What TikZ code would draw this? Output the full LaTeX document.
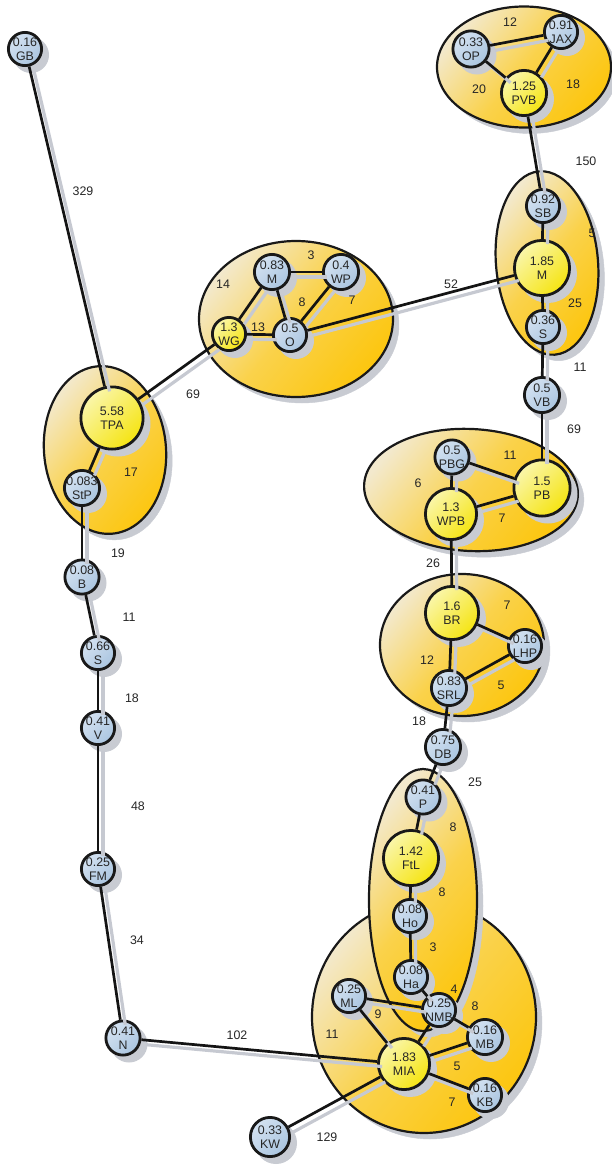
\documentclass[tikz,border=0pt]{standalone}
\usepackage{fontspec}
\setmainfont{Liberation Sans}
\usetikzlibrary{shadows}
\definecolor{shgray}{RGB}{200,203,210}
\definecolor{edgegray}{RGB}{198,201,209}
\definecolor{cream}{RGB}{243,233,205}
\definecolor{goldmid}{RGB}{250,210,75}
\definecolor{gold}{RGB}{252,198,15}
\definecolor{bluelt}{RGB}{212,226,241}
\definecolor{bluedk}{RGB}{170,197,224}
\definecolor{yellt}{RGB}{250,246,170}
\definecolor{yeldk}{RGB}{245,228,18}
\newcommand{\two}[2]{\makebox[0pt]{#1}\\\makebox[0pt]{#2}}
\begin{document}
\begin{tikzpicture}[x=1pt,y=-1pt,
  txt/.style={font=\fontsize{12.4}{14.5}\selectfont, text=black!85},
  city/.style={circle, draw=black!90, line width=2.8pt, inner sep=0pt, align=center, txt,
     minimum size=#1pt,
     drop shadow={shadow xshift=6pt,shadow yshift=-6pt,fill=shgray,draw=shgray,opacity=1}},
  bnode/.style={city=#1, top color=bluelt, bottom color=bluedk, shading angle=45},
  ynode/.style={city=#1, top color=yellt, bottom color=yeldk, shading angle=45},
  group/.style={draw=black!90, line width=2.2pt, top color=cream, bottom color=gold, middle color=goldmid, shading angle=50,
     drop shadow={shadow xshift=6pt,shadow yshift=-6pt,fill=shgray,draw=shgray,opacity=1}},
  edge/.style={draw=black!92, line width=2.7pt},
  edgesh/.style={draw=edgegray, line width=3.2pt, transform canvas={xshift=5pt,yshift=-5pt}},
  lbl/.style={txt, inner sep=0pt}
]
\useasboundingbox (0,0) rectangle (612,1165);

% group ellipses
\draw[group] (524,67) ellipse [x radius=87, y radius=60.5];
\draw[group] (296,319) ellipse [x radius=97, y radius=78];
\draw[group, rotate around={5:(547,263)}] (547,263) ellipse [x radius=51, y radius=92];
\draw[group, rotate around={5:(105,450)}] (105,450) ellipse [x radius=61, y radius=84];
\draw[group, rotate around={-3:(471,490)}] (471,490) ellipse [x radius=107, y radius=61];
\draw[group] (462,645) ellipse [x radius=82, y radius=71];
\draw[group] (424,1017) ellipse [x radius=112, y radius=116];
\draw[group] (423,900) ellipse [x radius=54, y radius=131];

% nodes
\node[bnode=33.2] (GB) at (25,49) {\two{0.16}{GB}};
\node[ynode=62.2] (TPA) at (112,418) {\two{5.58}{TPA}};
\node[bnode=35.2] (StP) at (82,488) {\two{0.083}{StP}};
\node[bnode=34.2] (B) at (82,577) {\two{0.08}{B}};
\node[bnode=33.2] (Sa) at (98,653) {\two{0.66}{S}};
\node[bnode=33.2] (V) at (98,728) {\two{0.41}{V}};
\node[bnode=33.2] (FM) at (98,869) {\two{0.25}{FM}};
\node[bnode=34.2] (N) at (123,1038) {\two{0.41}{N}};
\node[bnode=39.2] (KW) at (270,1137) {\two{0.33}{KW}};
\node[ynode=33.2] (WG) at (229,334) {\two{1.3}{WG}};
\node[bnode=35.2] (Ma) at (272,272) {\two{0.83}{M}};
\node[bnode=35.2] (WP) at (341,272) {\two{0.4}{WP}};
\node[bnode=33.2] (O) at (290,335) {\two{0.5}{O}};
\node[bnode=36.2] (OP) at (471,49) {\two{0.33}{OP}};
\node[bnode=33.2] (JAX) at (561,32) {\two{0.91}{JAX}};
\node[ynode=45.2] (PVB) at (524,93) {\two{1.25}{PVB}};
\node[bnode=33.2] (SB) at (543,206) {\two{0.92}{SB}};
\node[ynode=55.2] (Mb) at (542,268) {\two{1.85}{M}};
\node[bnode=33.2] (Sb) at (543,327) {\two{0.36}{S}};
\node[bnode=35.2] (VB) at (542,395) {\two{0.5}{VB}};
\node[bnode=34.2] (PBG) at (452,457) {\two{0.5}{PBG}};
\node[ynode=51.2] (WPB) at (451,514) {\two{1.3}{WPB}};
\node[ynode=56.2] (PB) at (542,488) {\two{1.5}{PB}};
\node[ynode=53.2] (BR) at (452,613) {\two{1.6}{BR}};
\node[bnode=33.2] (LHP) at (525,646) {\two{0.16}{LHP}};
\node[bnode=35.2] (SRL) at (449,688) {\two{0.83}{SRL}};
\node[bnode=35.2] (DB) at (443,747) {\two{0.75}{DB}};
\node[bnode=34.2] (P) at (423,797) {\two{0.41}{P}};
\node[ynode=55.2] (FtL) at (411,858) {\two{1.42}{FtL}};
\node[bnode=33.2] (Ho) at (410,916) {\two{0.08}{Ho}};
\node[bnode=33.2] (Ha) at (411,977) {\two{0.08}{Ha}};
\node[bnode=33.2] (ML) at (349,996) {\two{0.25}{ML}};
\node[bnode=33.2] (NMB) at (439,1010) {\two{0.25}{NMB}};
\node[bnode=35.2] (MB) at (485,1037) {\two{0.16}{MB}};
\node[ynode=51.2] (MIA) at (404,1064) {\two{1.83}{MIA}};
\node[bnode=33.2] (KB) at (485,1095) {\two{0.16}{KB}};

% edge shadows
\foreach \a/\b in {GB/TPA,TPA/WG,TPA/StP,StP/B,B/Sa,Sa/V,V/FM,FM/N,N/MIA,KW/MIA,
  WG/Ma,WG/O,Ma/WP,Ma/O,WP/O,O/Mb,OP/JAX,OP/PVB,JAX/PVB,PVB/SB,SB/Mb,Mb/Sb,Sb/VB,VB/PB,
  PBG/WPB,PBG/PB,WPB/PB,WPB/BR,BR/SRL,BR/LHP,SRL/LHP,SRL/DB,DB/P,P/FtL,FtL/Ho,Ho/Ha,
  Ha/NMB,ML/NMB,ML/MIA,NMB/MIA,NMB/MB,MIA/MB,MIA/KB}
  \draw[edgesh] (\a) -- (\b);
% edges
\foreach \a/\b in {GB/TPA,TPA/WG,TPA/StP,StP/B,B/Sa,Sa/V,V/FM,FM/N,N/MIA,KW/MIA,
  WG/Ma,WG/O,Ma/WP,Ma/O,WP/O,O/Mb,OP/JAX,OP/PVB,JAX/PVB,PVB/SB,SB/Mb,Mb/Sb,Sb/VB,VB/PB,
  PBG/WPB,PBG/PB,WPB/PB,WPB/BR,BR/SRL,BR/LHP,SRL/LHP,SRL/DB,DB/P,P/FtL,FtL/Ho,Ho/Ha,
  Ha/NMB,ML/NMB,ML/MIA,NMB/MIA,NMB/MB,MIA/MB,MIA/KB}
  \draw[edge] (\a) -- (\b);

% edge labels
\node[lbl] (w1) at (83,191) {329};
\node[lbl] (w2) at (193,394) {69};
\node[lbl] (w3) at (131,472) {17};
\node[lbl] (w4) at (118,553) {19};
\node[lbl] (w5) at (129,617) {11};
\node[lbl] (w6) at (132,698) {18};
\node[lbl] (w7) at (138,806) {48};
\node[lbl] (w8) at (137,940) {34};
\node[lbl] (w9) at (237,1035) {102};
\node[lbl] (w10) at (327,1137) {129};
\node[lbl] (w11) at (223,284) {14};
\node[lbl] (w12) at (311,255) {3};
\node[lbl] (w13) at (302,302) {8};
\node[lbl] (w14) at (352,300) {7};
\node[lbl] (w15) at (258,327) {13};
\node[lbl] (w16) at (451,284) {52};
\node[lbl] (w17) at (510,22) {12};
\node[lbl] (w18) at (479,89) {20};
\node[lbl] (w19) at (573,84) {18};
\node[lbl] (w20) at (586,161) {150};
\node[lbl] (w21) at (592,233) {5};
\node[lbl] (w22) at (575,303) {25};
\node[lbl] (w23) at (580,367) {11};
\node[lbl] (w24) at (574,429) {69};
\node[lbl] (w25) at (510,455) {11};
\node[lbl] (w26) at (418,483) {6};
\node[lbl] (w27) at (502,518) {7};
\node[lbl] (w28) at (433,563) {26};
\node[lbl] (w29) at (507,605) {7};
\node[lbl] (w30) at (427,660) {12};
\node[lbl] (w31) at (501,685) {5};
\node[lbl] (w32) at (419,721) {18};
\node[lbl] (w33) at (475,782) {25};
\node[lbl] (w34) at (453,827) {8};
\node[lbl] (w35) at (442,892) {8};
\node[lbl] (w36) at (433,947) {3};
\node[lbl] (w37) at (454,989) {4};
\node[lbl] (w38) at (475,1006) {8};
\node[lbl] (w39) at (378,1014) {9};
\node[lbl] (w40) at (332,1034) {11};
\node[lbl] (w41) at (457,1066) {5};
\node[lbl] (w42) at (452,1102) {7};
\end{tikzpicture}
\end{document}
